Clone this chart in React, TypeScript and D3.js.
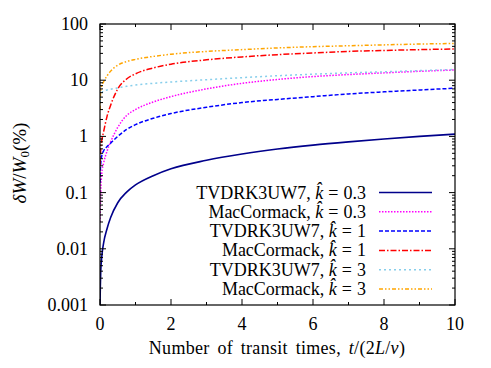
import React from "react";
import * as d3 from "d3";

const times = [0, 0.01, 0.02, 0.05, 0.1, 0.2, 0.3, 0.5, 0.75, 1, 1.5, 2, 3, 4, 5, 6, 7, 8, 9, 10];
const tvd03 = [0.001, 0.0022, 0.0038, 0.0072, 0.0125, 0.023, 0.036, 0.066, 0.102, 0.137, 0.2, 0.265, 0.375, 0.485, 0.595, 0.7, 0.8, 0.9, 1.0, 1.1];
const mac03 = [0.03, 0.06, 0.1, 0.22, 0.33, 0.55, 0.8, 1.45, 2.35, 3.0, 4.1, 5.1, 7.0, 8.8, 10.3, 11.6, 12.6, 13.5, 14.4, 15.2];
const tvd1 = [0.15, 0.25, 0.32, 0.45, 0.55, 0.66, 0.76, 1.0, 1.33, 1.62, 2.1, 2.55, 3.3, 4.0, 4.55, 5.1, 5.7, 6.2, 6.7, 7.2];
const mac1 = [0.3, 0.45, 0.6, 0.85, 1.2, 2.3, 3.6, 7.0, 10.5, 13.0, 16.5, 19.3, 23, 26, 28.5, 30.5, 32.5, 33.8, 35, 36];
const tvd3 = [4, 5, 5.5, 6, 6.4, 6.7, 6.9, 7.3, 7.8, 8.2, 8.8, 9.3, 10.2, 11.1, 12, 12.8, 13.5, 14.1, 14.8, 15.5];
const mac3 = [3, 5, 6.5, 8, 9.3, 12, 14.5, 18.5, 21.5, 23.5, 26.5, 29, 32.5, 35, 37.5, 39.5, 41, 42.5, 44, 45];

const seriesNames = ["TVDRK3UW7", "MacCormack", "TVDRK3UW7", "MacCormack", "TVDRK3UW7", "MacCormack"];
const seriesK = ["0.3", "0.3", "1", "1", "3", "3"];
const seriesValues = [tvd03, mac03, tvd1, mac1, tvd3, mac3];
const seriesColors = ["#00008b", "#ff00ff", "#0000ff", "#ff0000", "#87ceeb", "#ffa500"];
const seriesDash = ["none", "1.5,1.5", "4,2", "6,2,1.5,2", "2,3", "4,2,1.5,2,1.5,2"];
const seriesWidth = [1.6, 1.5, 1.5, 1.5, 1.5, 1.5];

const xTicks = [0, 2, 4, 6, 8, 10];
const xMinor = [1, 3, 5, 7, 9];
const yTicks = [0.001, 0.01, 0.1, 1, 10, 100];
const yTickLabels = ["0.001", "0.01", "0.1", "1", "10", "100"];

const W = 491, H = 368;
const L = 100, R = 455, T = 24, B = 305;
const FONT = "Liberation Serif";
const FS = 18;

export default function App() {
  const x = d3.scaleLinear().domain([0, 10]).range([L, R]);
  const y = d3.scaleLog().domain([0.001, 100]).range([B, T]);
  const yMinor: number[] = [];
  for (let e = -3; e < 2; e++) for (let m = 2; m <= 9; m++) yMinor.push(m * Math.pow(10, e));

  const line = d3.line<number>().x((_, i) => x(times[i])).y((v) => y(v)).curve(d3.curveMonotoneX);

  const legX1 = 379, legX2 = 432, legTextX = 366, legY0 = 192.5, legDy = 19.3;

  return (
    <svg width={W} height={H} style={{ position: "absolute", left: 0, top: 0, background: "#fff", fontFamily: FONT }}>
      <rect x={0} y={0} width={W} height={H} fill="#fff" />
      <defs>
        <clipPath id="plotclip"><rect x={L} y={T} width={R - L} height={B - T} /></clipPath>
      </defs>
      <g clipPath="url(#plotclip)">
        {seriesValues.map((vals, i) => (
          <path key={i} d={line(vals) || ""} fill="none" stroke={seriesColors[i]} strokeWidth={seriesWidth[i]}
            strokeDasharray={seriesDash[i]} />
        ))}
      </g>
      <g stroke="#000" strokeWidth={1}>
        {xTicks.map((t) => (
          <g key={"xt" + t}>
            <line x1={x(t)} x2={x(t)} y1={B} y2={B - 6} />
            <line x1={x(t)} x2={x(t)} y1={T} y2={T + 6} />
          </g>
        ))}
        {xMinor.map((t) => (
          <g key={"xm" + t}>
            <line x1={x(t)} x2={x(t)} y1={B} y2={B - 3} />
            <line x1={x(t)} x2={x(t)} y1={T} y2={T + 3} />
          </g>
        ))}
        {yTicks.map((t) => (
          <g key={"yt" + t}>
            <line x1={L} x2={L + 6} y1={y(t)} y2={y(t)} />
            <line x1={R} x2={R - 6} y1={y(t)} y2={y(t)} />
          </g>
        ))}
        {yMinor.map((t, i) => (
          <g key={"ym" + i}>
            <line x1={L} x2={L + 3} y1={y(t)} y2={y(t)} />
            <line x1={R} x2={R - 3} y1={y(t)} y2={y(t)} />
          </g>
        ))}
      </g>
      <rect x={L} y={T} width={R - L} height={B - T} fill="none" stroke="#000" strokeWidth={1.2} />
      <g fontSize={FS} fill="#000" fontFamily={FONT}>
        {xTicks.map((t) => (
          <text key={"xl" + t} x={x(t)} y={330} textAnchor="middle">{t}</text>
        ))}
        {yTicks.map((t, i) => (
          <text key={"yl" + t} x={88} y={y(t) + 6} textAnchor="end">{yTickLabels[i]}</text>
        ))}
      </g>
      <text x={277} y={354} textAnchor="middle" fontSize={FS} fontFamily={FONT} wordSpacing={3} letterSpacing={0.3}>
        Number of transit times, <tspan fontStyle="italic">t</tspan>/(2<tspan fontStyle="italic">L</tspan>/<tspan fontStyle="italic">v</tspan>)
      </text>
      <text transform="translate(26,163) rotate(-90)" textAnchor="middle" fontSize={FS + 1} fontFamily={FONT}>
        <tspan fontStyle="italic">δW</tspan>/<tspan fontStyle="italic">W</tspan><tspan fontSize={13} dy={3}>0</tspan><tspan dy={-3}>(%)</tspan>
      </text>
      <g fontSize={FS} fontFamily={FONT}>
        {seriesValues.map((_, i) => {
          const yy = legY0 + i * legDy;
          return (
            <g key={"lg" + i}>
              <text x={legTextX} y={yy + 6} textAnchor="end">
                {seriesNames[i]}, <tspan fontStyle="italic">k̂</tspan><tspan dx={5}>=</tspan><tspan dx={5}>{seriesK[i]}</tspan>
              </text>
              <line x1={legX1} x2={legX2} y1={yy} y2={yy} stroke={seriesColors[i]} strokeWidth={seriesWidth[i]}
                strokeDasharray={seriesDash[i]} />
            </g>
          );
        })}
      </g>
    </svg>
  );
}
